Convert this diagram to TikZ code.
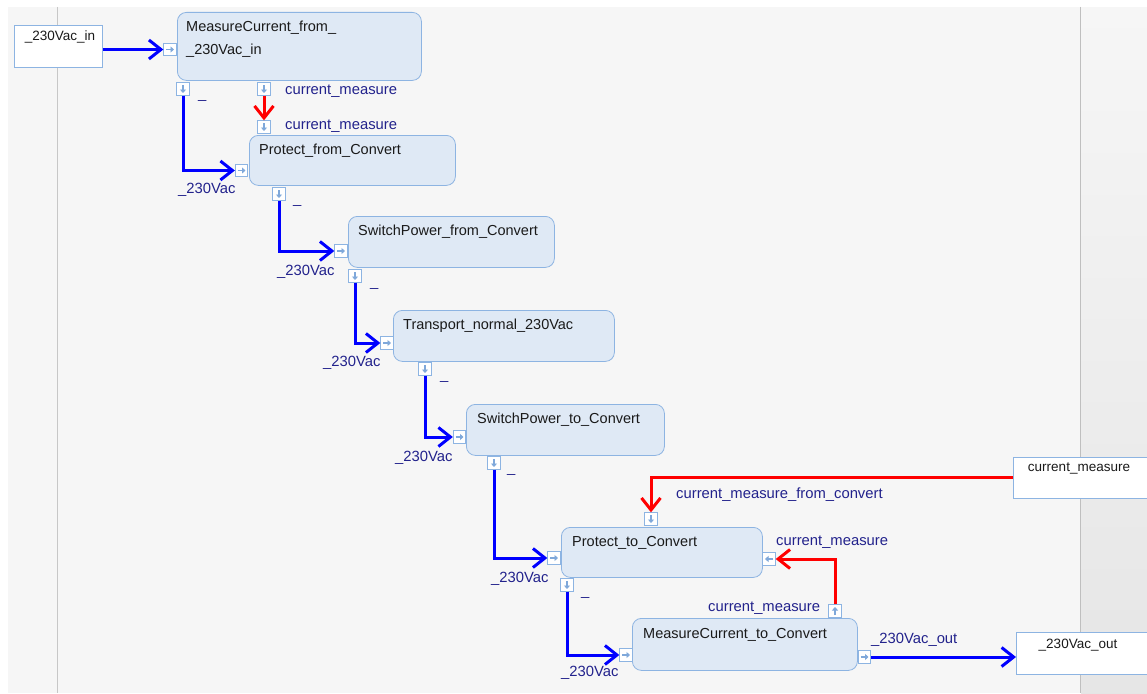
\documentclass[tikz,border=0pt]{standalone}
\usepackage{fontspec}
\setmainfont{Liberation Sans}
\usetikzlibrary{arrows.meta,positioning}

\definecolor{boxfill}{HTML}{DFE9F5}
\definecolor{boxline}{HTML}{8DB4E2}
\definecolor{porticon}{HTML}{7FA8DA}
\definecolor{lblcol}{HTML}{22228C}
\definecolor{txtcol}{HTML}{1A1A1A}
\definecolor{bgcol}{HTML}{F6F6F6}
\definecolor{wblue}{HTML}{0000FF}
\definecolor{wred}{HTML}{FF0000}

\tikzset{
  block/.style={draw=boxline, fill=boxfill, rounded corners=9pt, anchor=north west, inner sep=0pt, line width=0.8pt},
  btext/.style={anchor=base west, inner sep=0pt, text=txtcol, font=\fontsize{14.5}{23}\selectfont},
  iobox/.style={draw=boxline, fill=white, anchor=north west, inner sep=0pt, line width=0.8pt},
  iotext/.style={anchor=base, inner sep=0pt, text=txtcol, font=\fontsize{13.5}{16}\selectfont},
  port/.style={draw=boxline, fill=white, minimum size=12.5pt, inner sep=0pt, line width=0.8pt},
  icon/.style={draw=porticon, line width=1.6pt, -{Triangle[length=3.5pt,width=6pt]}},
  pr/.style={port, path picture={\draw[icon] ([xshift=-4pt]path picture bounding box.center) -- ([xshift=4pt]path picture bounding box.center);}},
  pl/.style={port, path picture={\draw[icon] ([xshift=4pt]path picture bounding box.center) -- ([xshift=-4pt]path picture bounding box.center);}},
  pd/.style={port, path picture={\draw[icon] ([yshift=4pt]path picture bounding box.center) -- ([yshift=-4pt]path picture bounding box.center);}},
  pu/.style={port, path picture={\draw[icon] ([yshift=-4pt]path picture bounding box.center) -- ([yshift=4pt]path picture bounding box.center);}},
  bwire/.style={draw=wblue, line width=3pt, -{Straight Barb[length=12pt,width=19pt]}},
  rwire/.style={draw=wred, line width=3pt, -{Straight Barb[length=12pt,width=19pt]}},
  wlbl/.style={anchor=base west, inner sep=0pt, text=lblcol, font=\fontsize{14.8}{17}\selectfont}
}

\begin{document}
\begin{tikzpicture}[x=1pt,y=-1pt]
  \useasboundingbox (0,0) rectangle (1147,693);
  \fill[bgcol] (0,0) rectangle (1147,693);
  \shade[top color=bgcol, bottom color=black!10] (1081,7) rectangle (1147,693);
  \fill[white] (0,0) rectangle (1147,7);
  \fill[white] (0,0) rectangle (8,693);
  \draw[black!22, line width=1pt] (57.5,7) -- (57.5,693);
  \draw[black!25, line width=1pt] (1080.5,7) -- (1080.5,693);

  \node[iobox, minimum width=88, minimum height=42] (in) at (14,25) {};
  \node[iotext] (in-t) at (60,41) {\_230Vac\_in};
  \node[iobox, minimum width=140, minimum height=41] (cm) at (1013,457) {};
  \node[iotext] (cm-t) at (1079,471) {current\_measure};
  \node[iobox, minimum width=140, minimum height=42] (out) at (1016,632) {};
  \node[iotext] (out-t) at (1078,648) {\_230Vac\_out};

  \node[block, minimum width=244, minimum height=68] (mcf) at (177,12) {};
  \node[btext, anchor=north west, align=left] (mcf-t) at (186,21) {MeasureCurrent\_from\_\\\_230Vac\_in};
  \node[block, minimum width=206, minimum height=50] (pfc) at (249,135) {};
  \node[btext] (pfc-t) at (259,154) {Protect\_from\_Convert};
  \node[block, minimum width=206, minimum height=51] (spf) at (348,216) {};
  \node[btext] (spf-t) at (358,235) {SwitchPower\_from\_Convert};
  \node[block, minimum width=221, minimum height=51] (tn) at (393,310) {};
  \node[btext] (tn-t) at (403,329) {Transport\_normal\_230Vac};
  \node[block, minimum width=198, minimum height=51] (spt) at (466,404) {};
  \node[btext] (spt-t) at (477,423) {SwitchPower\_to\_Convert};
  \node[block, minimum width=201, minimum height=50] (ptc) at (561,527) {};
  \node[btext] (ptc-t) at (572,546) {Protect\_to\_Convert};
  \node[block, minimum width=225, minimum height=52] (mct) at (632,618) {};
  \node[btext] (mct-t) at (643,638) {MeasureCurrent\_to\_Convert};

  \node[pr] (mcf-in) at (170,49.5) {};
  \node[pd] (mcf-o) at (183,89) {};
  \node[pd] (mcf-cm) at (264,89) {};
  \node[pr] (pfc-in) at (241.5,170.5) {};
  \node[pd] (pfc-top) at (264,127) {};
  \node[pd] (pfc-o) at (279,194) {};
  \node[pr] (spf-in) at (341,251) {};
  \node[pd] (spf-o) at (355,276) {};
  \node[pr] (tn-in) at (387,343) {};
  \node[pd] (tn-o) at (425,369) {};
  \node[pr] (spt-in) at (459.5,437) {};
  \node[pd] (spt-o) at (494,463) {};
  \node[pr] (ptc-in) at (554,558) {};
  \node[pd] (ptc-top) at (651,519) {};
  \node[pl] (ptc-r) at (769,559) {};
  \node[pd] (ptc-o) at (567,585) {};
  \node[pr] (mct-in) at (626,655) {};
  \node[pu] (mct-top) at (835,611) {};
  \node[pr] (mct-out) at (864.5,657) {};

  \draw[bwire] (in.east |- mcf-in) -- (mcf-in.west);
  \draw[bwire] (mcf-o.south) |- (pfc-in.west);
  \draw[rwire] (mcf-cm.south) -- (pfc-top.north);
  \draw[bwire] (pfc-o.south) |- (spf-in.west);
  \draw[bwire] (spf-o.south) |- (tn-in.west);
  \draw[bwire] (tn-o.south) |- (spt-in.west);
  \draw[bwire] (spt-o.south) |- (ptc-in.west);
  \draw[bwire] (ptc-o.south) |- (mct-in.west);
  \draw[rwire] (cm.west) -| (ptc-top.north);
  \draw[rwire] (mct-top.north) |- (ptc-r.east);
  \draw[bwire] (mct-out.east) -- (out.west |- mct-out.east);

  \node[wlbl] (l-cm1) at (285,94) {current\_measure};
  \node[wlbl] (l-cm2) at (285,129) {current\_measure};
  \node[wlbl] (l-u1) at (198,98) {\_};
  \node[wlbl] (l-v1) at (178,193) {\_230Vac};
  \node[wlbl] (l-u2) at (293,203) {\_};
  \node[wlbl] (l-v2) at (277,275) {\_230Vac};
  \node[wlbl] (l-u3) at (370,286) {\_};
  \node[wlbl] (l-v3) at (323,366) {\_230Vac};
  \node[wlbl] (l-u4) at (440,379) {\_};
  \node[wlbl] (l-v4) at (395,461) {\_230Vac};
  \node[wlbl] (l-u5) at (507,472) {\_};
  \node[wlbl] (l-v5) at (491,582) {\_230Vac};
  \node[wlbl] (l-u6) at (581,595) {\_};
  \node[wlbl] (l-v6) at (561,676) {\_230Vac};
  \node[wlbl] (l-cmfc) at (676,498) {current\_measure\_from\_convert};
  \node[wlbl] (l-cm3) at (776,545) {current\_measure};
  \node[wlbl] (l-cm4) at (708,611) {current\_measure};
  \node[wlbl] (l-out) at (871,643) {\_230Vac\_out};
\end{tikzpicture}
\end{document}
